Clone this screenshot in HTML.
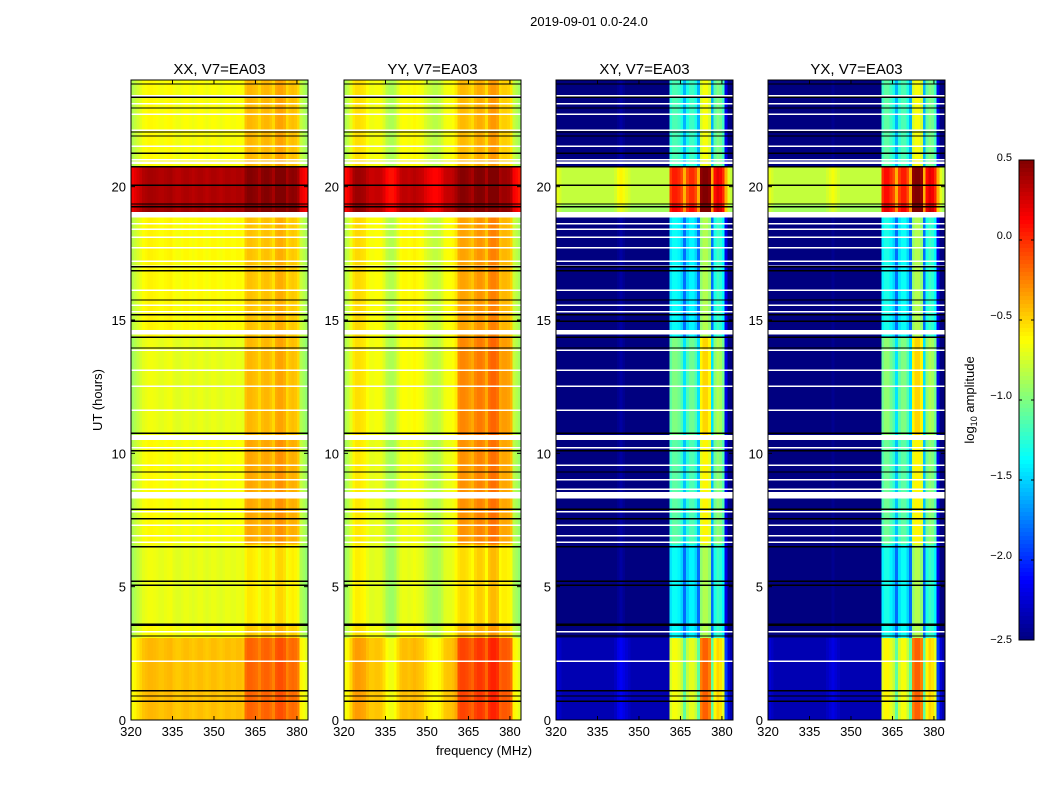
<!DOCTYPE html>
<html><head><meta charset="utf-8"><style>
body{margin:0;background:#fff;}
svg{display:block;font-family:"Liberation Sans",sans-serif;}
</style></head><body>
<svg id="fig" width="1050" height="800" xmlns="http://www.w3.org/2000/svg">
<text x="589" y="26" font-size="13" text-anchor="middle">2019-09-01 0.0-24.0</text>
<text transform="translate(102,400) rotate(-90)" font-size="13" text-anchor="middle">UT (hours)</text>
<text x="484" y="755" font-size="13" text-anchor="middle">frequency (MHz)</text>
<text transform="translate(974,400) rotate(-90)" font-size="13" text-anchor="middle">log<tspan font-size="9" dy="3">10</tspan><tspan dy="-3"> amplitude</tspan></text>
<g id="panels"></g>
<g id="cbar"></g>
</svg>
<script>
const panelNames = ["XX, V7=EA03","YY, V7=EA03","XY, V7=EA03","YX, V7=EA03"];
const xTicks = [320,335,350,365,380];
const yTicks = [0,5,10,15,20];
const cbTicks = [0.5,0.0,-0.5,-1.0,-1.5,-2.0,-2.5];
const cbTickLabels = ["0.5","0.0","\u22120.5","\u22121.0","\u22121.5","\u22122.0","\u22122.5"];
const channelStart = 320;
const specXX = [-0.9,-0.85,-0.8,-0.75,-0.7,-0.68,-0.66,-0.66,-0.67,-0.68,-0.7,-0.7,-0.68,-0.67,-0.66,-0.7,-0.72,-0.72,-0.7,-0.68,-0.68,-0.7,-0.72,-0.7,-0.68,-0.68,-0.7,-0.72,-0.7,-0.68,-0.68,-0.7,-0.72,-0.7,-0.68,-0.68,-0.7,-0.7,-0.68,-0.68,-0.7,-0.6,-0.56,-0.56,-0.58,-0.6,-0.66,-0.58,-0.56,-0.56,-0.6,-0.66,-0.53,-0.5,-0.5,-0.54,-0.66,-0.6,-0.58,-0.6,-0.66,-0.85,-0.9,-0.95];
const specYY = [-0.9,-0.85,-0.75,-0.62,-0.58,-0.58,-0.6,-0.62,-0.68,-0.72,-0.72,-0.7,-0.7,-0.72,-0.78,-0.88,-0.92,-0.92,-0.88,-0.78,-0.7,-0.68,-0.68,-0.7,-0.68,-0.66,-0.68,-0.7,-0.72,-0.78,-0.82,-0.85,-0.88,-0.88,-0.85,-0.8,-0.72,-0.7,-0.7,-0.68,-0.62,-0.55,-0.52,-0.52,-0.54,-0.58,-0.62,-0.52,-0.48,-0.48,-0.52,-0.62,-0.46,-0.42,-0.42,-0.46,-0.62,-0.58,-0.58,-0.6,-0.66,-0.85,-0.9,-0.95];
const specXY = [-2.5,-2.55,-2.6,-2.6,-2.6,-2.6,-2.6,-2.6,-2.6,-2.6,-2.6,-2.6,-2.6,-2.6,-2.6,-2.6,-2.6,-2.6,-2.6,-2.6,-2.6,-2.55,-2.45,-2.4,-2.45,-2.5,-2.55,-2.6,-2.6,-2.6,-2.6,-2.6,-2.6,-2.6,-2.6,-2.6,-2.6,-2.6,-2.6,-2.6,-2.6,-1.45,-1.35,-1.35,-1.4,-1.5,-1.8,-1.5,-1.4,-1.4,-1.5,-1.8,-0.95,-0.85,-0.85,-0.95,-1.8,-1.3,-1.2,-1.25,-1.4,-2.2,-2.5,-2.6];
const specYX = [-2.5,-2.55,-2.6,-2.6,-2.6,-2.6,-2.6,-2.6,-2.6,-2.6,-2.6,-2.6,-2.6,-2.6,-2.6,-2.6,-2.6,-2.6,-2.6,-2.6,-2.6,-2.55,-2.5,-2.45,-2.5,-2.55,-2.6,-2.6,-2.6,-2.6,-2.6,-2.6,-2.6,-2.6,-2.6,-2.6,-2.6,-2.6,-2.6,-2.6,-2.6,-1.4,-1.3,-1.3,-1.4,-1.5,-1.8,-1.45,-1.35,-1.35,-1.5,-1.8,-0.95,-0.85,-0.85,-0.95,-1.8,-1.3,-1.2,-1.25,-1.4,-2.2,-2.5,-2.6];
const segStart = [0,3.1,3.6,6.6,10.6,14.4,19.0,19.4,20.8];
const segEnd   = [3.1,3.6,6.6,10.6,14.4,19.0,19.4,20.8,24];
const offXX = [0.25,0.05,0,0.05,0,0.07,1.1,1.05,0.05];
const offYY = [0.25,0.05,0,0.02,0.05,0.07,1.05,1.0,0.05];
const offXY = [0.25,0,0,0,0,0,1.7,1.8,0];
const offYX = [0.25,0,0,0,0,0,1.7,1.8,0];
const rfiXX = [0.15,0.05,0,0.15,0.15,0.05,0,0,0.1];
const rfiYY = [0.2,0.05,0,0.2,0.2,0.1,0,0,0.05];
const rfiXY = [0.45,0,0,0.25,0.35,0,-0.2,-0.4,0.2];
const rfiYX = [0.45,0,0,0.25,0.35,0,-0.2,-0.4,0.2];
const whiteBandsStart = [8.3,10.5,14.45,18.85,20.85];
const whiteBandsEnd   = [8.55,10.68,14.62,19.05,20.95];
const whiteLines = [2.2,3.3,6.65,6.9,7.3,7.8,8.65,9.0,9.55,10.2,11.6,12.5,13.1,13.85,15.3,15.55,16.1,17.0,17.2,17.7,18.1,18.4,18.6,21.0,21.5,22.1,22.7,23.1,23.4];
const blackLines = [0.7,0.9,1.1,3.15,3.55,3.6,5.05,5.2,6.5,7.55,7.9,9.3,10.1,10.75,13.95,14.35,14.95,15.2,15.75,16.85,17.0,19.25,19.35,20.05,20.75,21.25,21.9,22.05,22.95,23.35,23.85];

const specs=[specXX,specYY,specXY,specYX], offs=[offXX,offYY,offXY,offYX], rfis=[rfiXX,rfiYY,rfiXY,rfiYX];
const panelX=[131,344,556,768], PW=177, PT=80, PH=640;
const fMin=320,fMax=384,tMin=0,tMax=24,vMin=-2.5,vMax=0.5;
const NS="http://www.w3.org/2000/svg";
function jet(v){let t=(v-vMin)/(vMax-vMin);t=Math.max(0,Math.min(1,t));
 const c=x=>Math.round(255*Math.max(0,Math.min(1,1.5-Math.abs(4*t-x))));
 return `rgb(${c(3)},${c(2)},${c(1)})`;}
function el(tag,attrs,parent){const e=document.createElementNS(NS,tag);for(const k in attrs)e.setAttribute(k,attrs[k]);parent.appendChild(e);return e;}
const panels=document.getElementById('panels');
panelNames.forEach((name,p)=>{
 const x0=panelX[p];
 const xs=f=>x0+(f-fMin)/(fMax-fMin)*PW;
 const ys=t=>PT+PH-(t-tMin)/(tMax-tMin)*PH;
 const g=el('g',{},panels);
 
 
 const hm=el('g',{'shape-rendering':'crispEdges'},g);
 
 
 specs[p].forEach((s,i)=>{
  const f=channelStart+i;
  segStart.forEach((s0,j)=>{
   let v=s+offs[p][j]+(f>=361&&f<=380?rfis[p][j]:0);
   const r=el('rect',{x:xs(f),y:ys(segEnd[j]),width:xs(f+1)-xs(f)+0.6,height:ys(s0)-ys(segEnd[j])+0.6,fill:jet(v)},hm);
   
   
  });
 });
 whiteBandsStart.forEach((a,i)=>{const r=el('rect',{x:x0,y:ys(whiteBandsEnd[i]),width:PW,height:ys(a)-ys(whiteBandsEnd[i]),fill:'#fff'},hm);
  });
 whiteLines.forEach(t=>{const r=el('rect',{x:x0,y:ys(t)-1,width:PW,height:1.5,fill:'#fff'},hm);
  });
 blackLines.forEach(t=>{const r=el('rect',{x:x0,y:ys(t)-0.6,width:PW,height:1.2,fill:'#000'},hm);
  });
 const fr=el('rect',{x:x0,y:PT,width:PW,height:PH,fill:'none',stroke:'#000','stroke-width':1},g);
 
 const tt=el('text',{x:x0+PW/2,y:PT-6,'font-size':15,'text-anchor':'middle'},g);tt.textContent=name;
 
 xTicks.forEach(f=>{const X=xs(f);
  el('line',{x1:X,x2:X,y1:PT+PH,y2:PT+PH-4,stroke:'#000'},g);el('line',{x1:X,x2:X,y1:PT,y2:PT+4,stroke:'#000'},g);
  const l=el('text',{x:X,y:PT+PH+16,'font-size':13,'text-anchor':'middle'},g);l.textContent=f;
  });
 yTicks.forEach(t=>{const Y=ys(t);
  el('line',{x1:x0,x2:x0+4,y1:Y,y2:Y,stroke:'#000'},g);el('line',{x1:x0+PW,x2:x0+PW-4,y1:Y,y2:Y,stroke:'#000'},g);
  const l=el('text',{x:x0-5,y:Y+5,'font-size':13,'text-anchor':'end'},g);l.textContent=t;
  });
});
const cb=document.getElementById('cbar');
const cbX=1019,cbW=15,cbT=160,cbH=480;
const cys=v=>cbT+(vMax-v)/(vMax-vMin)*cbH;
const cg=el('g',{'shape-rendering':'crispEdges'},cb);

for(let i=0;i<120;i++){const v=vMax-(i+0.5)*(vMax-vMin)/120;
 el('rect',{x:cbX,y:cbT+i*cbH/120,width:cbW,height:cbH/120+0.6,fill:jet(v)},cg);}
el('rect',{x:cbX,y:cbT,width:cbW,height:cbH,fill:'none',stroke:'#000'},cb);
cbTicks.forEach((v,i)=>{const Y=cys(v);
 el('line',{x1:cbX,x2:cbX+3,y1:Y,y2:Y,stroke:'#000'},cb);
 el('line',{x1:cbX+cbW-3,x2:cbX+cbW,y1:Y,y2:Y,stroke:'#000'},cb);
 const l=el('text',{x:cbX-7,y:(i===0?Y+1:(i===cbTicks.length-1?Y+3:Y-1)),'font-size':11,'text-anchor':'end'},cb);l.textContent=cbTickLabels[i];
 });
</script>
</body></html>
